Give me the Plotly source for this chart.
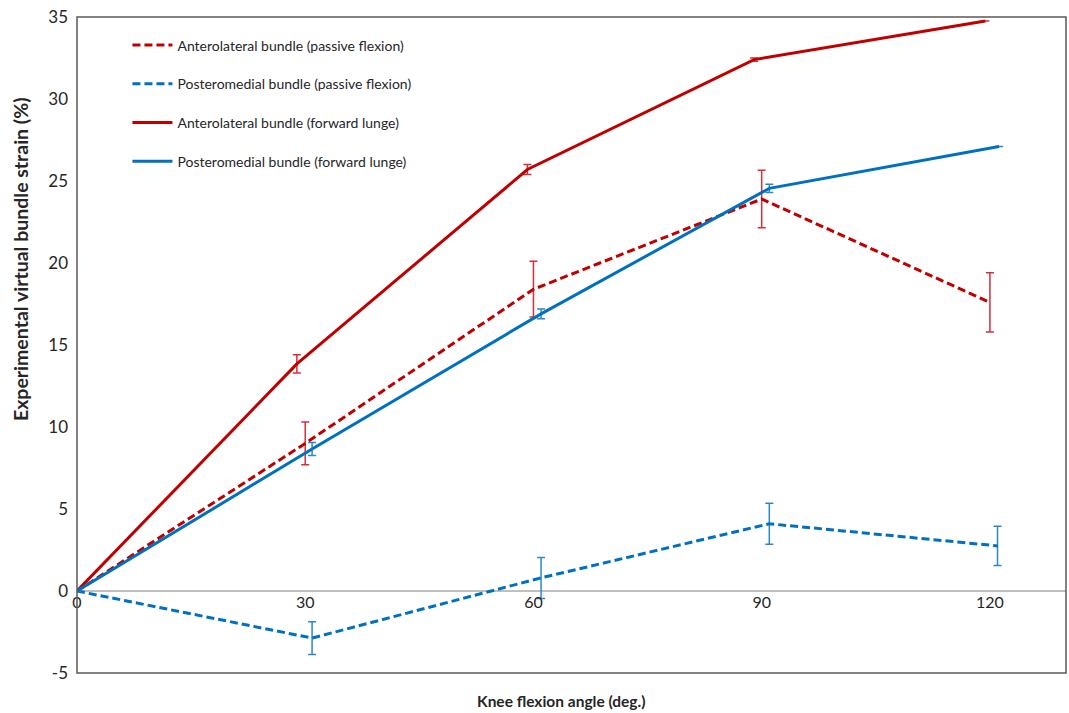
import plotly.graph_objects as go

# Data
al_passive_x = [0, 30, 60, 90, 120]
al_passive_y = [0, 9.0, 18.4, 23.9, 17.6]
al_passive_err = [None, 1.3, 1.7, 1.75, 1.8]

pm_passive_x = [0, 30.9, 61.0, 91.0, 121.0]
pm_passive_y = [0, -2.87, 0.8, 4.1, 2.75]
pm_passive_err = [None, 1.0, 1.25, 1.25, 1.2]

al_lunge_x = [0, 28.9, 59.2, 89.0, 119.4]
al_lunge_y = [0, 13.85, 25.7, 32.4, 34.75]
al_lunge_err = [None, 0.55, 0.3, 0.1, None]

pm_lunge_x = [0, 30.9, 61.0, 91.0, 121.2]
pm_lunge_y = [0, 8.66, 16.9, 24.55, 27.1]
pm_lunge_err = [None, 0.4, 0.3, 0.25, None]

x_ticks = [0, 30, 60, 90, 120]
y_ticks = [-5, 0, 5, 10, 15, 20, 25, 30, 35]

names = [
    "Anterolateral bundle (passive flexion)",
    "Posteromedial bundle (passive flexion)",
    "Anterolateral bundle (forward lunge)",
    "Posteromedial bundle (forward lunge)",
]

RED = "#C00000"
BLUE = "#0070C0"
RED_ERR = "#D3303A"
BLUE_ERR = "#2E86CC"
FONT = "Lato, Noto Sans, sans-serif"

fig = go.Figure()

series = [
    (al_passive_x, al_passive_y, al_passive_err, RED, RED_ERR, "8px,4px", names[0]),
    (pm_passive_x, pm_passive_y, pm_passive_err, BLUE, BLUE_ERR, "8px,4px", names[1]),
    (al_lunge_x, al_lunge_y, al_lunge_err, RED, RED_ERR, "solid", names[2]),
    (pm_lunge_x, pm_lunge_y, pm_lunge_err, BLUE, BLUE_ERR, "solid", names[3]),
]

for i, (xs, ys, es, col, ecol, dash, nm) in enumerate(series):
    fig.add_trace(go.Scatter(
        x=xs, y=ys, mode="lines", name=nm,
        legendgroup=f"g{i}",
        line=dict(color=col, width=3, dash=dash),
        error_y=dict(type="data", array=es, visible=True,
                     color=ecol, thickness=1.5, width=4),
    ))

fig.update_layout(
    width=1069, height=713,
    margin=dict(l=77, r=3, t=17, b=40),
    paper_bgcolor="white", plot_bgcolor="white",
    font=dict(family=FONT, color="#262626"),
    showlegend=True,
    legend=dict(
        x=0.051, y=0.981, xanchor="left", yanchor="top",
        traceorder="grouped", tracegroupgap=17.5,
        font=dict(size=14, family=FONT, color="#262626"),
        bgcolor="rgba(0,0,0,0)", itemwidth=40,
    ),
    xaxis=dict(
        range=[0, 130], tickvals=x_ticks, ticktext=[str(v) for v in x_ticks],
        showgrid=False, zeroline=False, showline=False, ticks="",
        anchor="free", position=0.125, automargin=False,
        tickfont=dict(size=16, family=FONT, color="#262626"),
    ),
    yaxis=dict(
        range=[-5, 35], tickvals=y_ticks, ticktext=[str(v) for v in y_ticks],
        showgrid=False, zeroline=True, zerolinecolor="#BFBFBF", zerolinewidth=1.5,
        showline=False, ticks="", ticklabelstandoff=8, automargin=False,
        tickfont=dict(size=17, family=FONT, color="#262626"),
    ),
    shapes=[dict(type="rect", xref="paper", yref="paper", x0=0, y0=0, x1=1, y1=1,
                 line=dict(color="#595959", width=1.5), layer="above")],
    annotations=[
        dict(text="<b>Knee flexion angle (deg.)</b>", xref="paper", yref="paper",
             x=0.49, y=0, yshift=-28, xanchor="center", yanchor="middle",
             showarrow=False, font=dict(size=15.5, family=FONT, color="#262626")),
        dict(text="<b>Experimental virtual bundle strain (%)</b>", xref="paper", yref="paper",
             x=0, xshift=-57, y=0.631, xanchor="center", yanchor="middle", textangle=-90,
             showarrow=False, font=dict(size=19.5, family=FONT, color="#262626")),
    ],
)

fig.write_html("out.html", config={"displayModeBar": False},
               post_script="document.body.style.margin='0px';")
